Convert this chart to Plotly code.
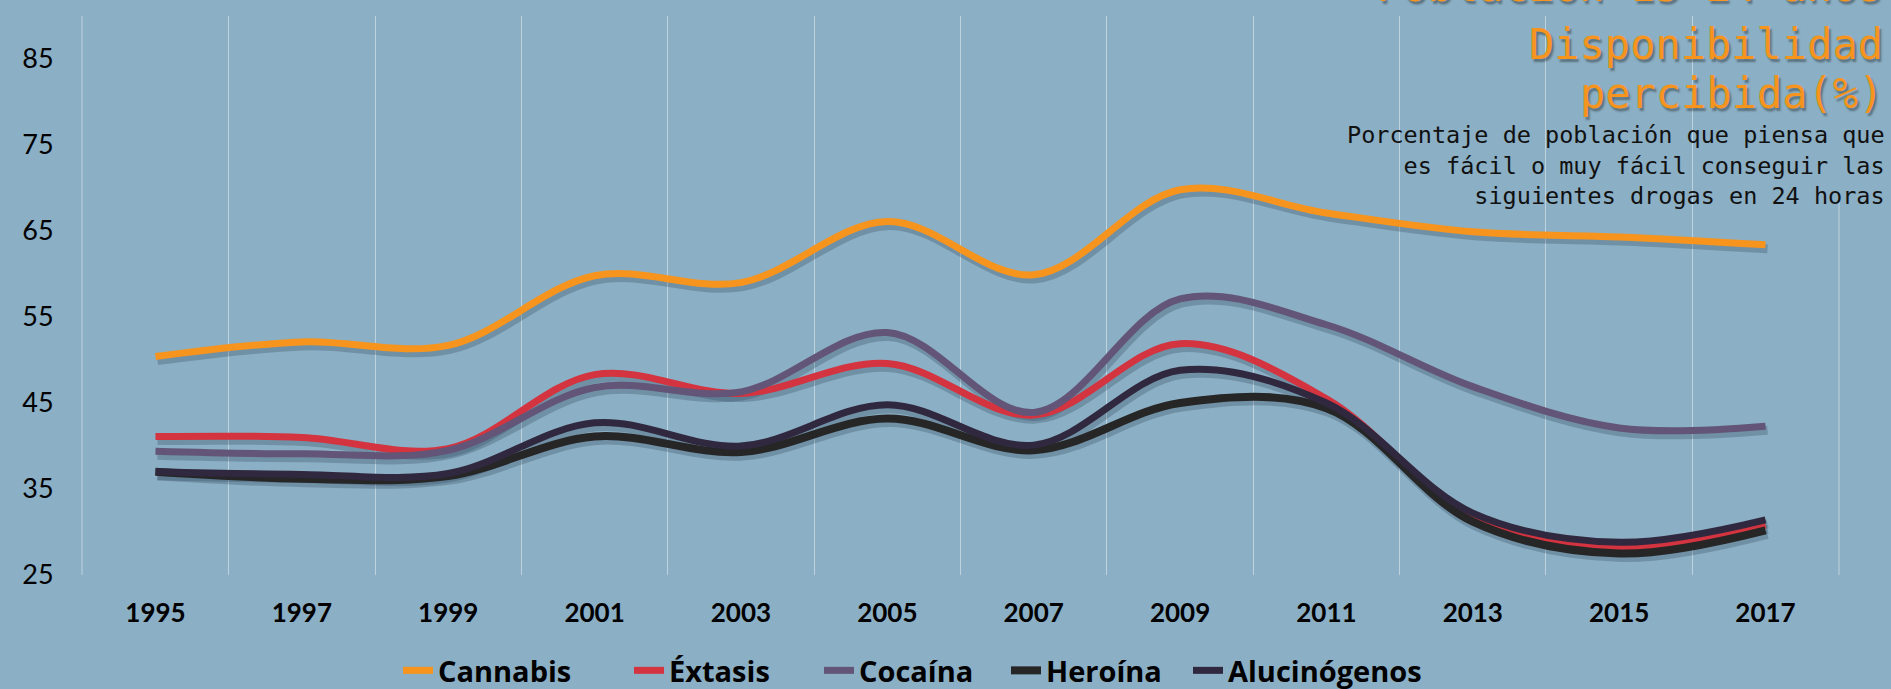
import plotly.graph_objects as go

# ---------------- data ----------------
years = ["1995", "1997", "1999", "2001", "2003", "2005",
         "2007", "2009", "2011", "2013", "2015", "2017"]
cannabis = [50.4, 52.1, 51.7, 59.8, 59.0, 66.1, 59.9, 69.8, 67.1, 64.9, 64.3, 63.4]
extasis = [41.1, 41.0, 39.7, 48.3, 46.1, 49.6, 43.6, 51.9, 45.5, 31.8, 28.2, 30.8]
cocaina = [39.4, 39.1, 39.5, 46.8, 46.3, 53.2, 43.9, 57.1, 54.1, 46.9, 42.1, 42.3]
heroina = [37.0, 36.2, 36.5, 41.1, 39.3, 43.2, 39.5, 45.0, 44.4, 31.2, 27.5, 30.2]
alucinogenos = [37.0, 36.7, 36.8, 42.7, 40.0, 44.8, 40.1, 48.8, 45.0, 32.2, 28.8, 31.4]
y_ticks = [25, 35, 45, 55, 65, 75, 85]

series_names = ["Cannabis", "Éxtasis", "Cocaína", "Heroína", "Alucinógenos"]
series_values = [cannabis, extasis, cocaina, heroina, alucinogenos]
series_colors = ["#F7941D", "#D3343F", "#635577", "#262626", "#30283F"]
series_widths = [7, 7, 7, 8, 7]
legend_widths = [186, 145, 142, 137, None]

title_lines = ["Población 15-24 años", "Disponibilidad", "percibida(%)"]
subtitle = ("Porcentaje de población que piensa que<br>"
            "es fácil o muy fácil conseguir las<br>"
            "siguientes drogas en 24 horas")

BG = "#8BAFC4"
GRID = "rgba(255,255,255,0.45)"
W, H = 1891, 689
ML, MR, MB = 82, 52, 114
TOPGAP = 16                      # space above plot area (inside paper domain)
paper_h = H - MB                 # margin t = 0
plot_h = paper_h - TOPGAP
plot_w = W - ML - MR
Y0, Y1 = 25, 90
EPS = 0.002
dy = 4 * (Y1 - Y0) / plot_h          # shadow offset (4 px down)
dx = 2 * len(years) / plot_w          # shadow offset (2 px right)
ydom = [0, plot_h / paper_h]

fig = go.Figure()

# soft shadows (base axes, hidden, slightly shifted ranges)
for vals in series_values:
    fig.add_trace(go.Scatter(
        x=years, y=vals, mode="lines",
        line=dict(color="rgba(40,62,85,0.27)", width=9, shape="spline", smoothing=1.0),
        xaxis="x", yaxis="y", showlegend=False, hoverinfo="skip"))

# main lines (overlay axes, visible)
for name, vals, col, w, lw in zip(series_names, series_values, series_colors,
                                   series_widths, legend_widths):
    tr = go.Scatter(
        x=years, y=vals, mode="lines", name=name,
        line=dict(color=col, width=w, shape="spline", smoothing=1.0),
        xaxis="x2", yaxis="y2")
    if lw:
        tr.legendwidth = lw
    fig.add_trace(tr)


def ypaper(px):
    return (paper_h - px) / paper_h


def xpaper(px):
    return (px - ML) / plot_w


# outer vertical grid lines at the plot edges
for xe in (0, 1):
    fig.add_shape(type="line", xref="paper", yref="paper",
                  x0=xe, x1=xe, y0=0, y1=ydom[1],
                  line=dict(color=GRID, width=1), layer="between")

# title box covering gridlines
fig.add_shape(type="rect", xref="paper", yref="paper",
              x0=xpaper(1318), x1=xpaper(1891), y0=ypaper(199), y1=ypaper(0),
              fillcolor=BG, line=dict(width=0), layer="between")

title_y = [-14, 45, 94]
for txt, yy in zip(title_lines, title_y):
    fig.add_annotation(
        text=txt, xref="paper", yref="paper", x=xpaper(1885), y=ypaper(yy),
        xanchor="right", yanchor="middle", showarrow=False,
        font=dict(family="DejaVu Sans Mono", size=42, color="#F7941D",
                  shadow="2px 3px 2px rgba(0,0,0,0.35)"))

fig.add_annotation(
    text=subtitle, xref="paper", yref="paper", x=xpaper(1887), y=ypaper(165),
    xanchor="right", yanchor="middle", align="right", showarrow=False,
    font=dict(family="DejaVu Sans Mono", size=23.5, color="#111111"))

fig.update_layout(
    width=W, height=H,
    margin=dict(l=ML, r=MR, t=0, b=MB, autoexpand=False),
    paper_bgcolor=BG, plot_bgcolor=BG,
    xaxis=dict(type="category", range=[-0.5 - EPS - dx, len(years) - 0.5 + EPS - dx],
               visible=False),
    yaxis=dict(range=[Y0 + dy, Y1 + dy], visible=False, domain=ydom),
    xaxis2=dict(type="category", overlaying="x", anchor="y2", side="bottom",
                range=[-0.5 - EPS, len(years) - 0.5 + EPS], tickson="boundaries",
                showgrid=True, gridcolor=GRID, gridwidth=1,
                zeroline=False, showline=False,
                ticks="outside", ticklen=20, tickcolor="rgba(0,0,0,0)",
                ticklabelstandoff=20,
                tickfont=dict(family="Lato", size=26, color="#000000", weight="bold")),
    yaxis2=dict(overlaying="y", anchor="x2", side="left", domain=ydom,
                range=[Y0, Y1], tickvals=y_ticks, ticktext=[str(t) for t in y_ticks],
                showgrid=False, zeroline=False, showline=False,
                ticks="outside", ticklen=22, tickcolor="rgba(0,0,0,0)",
                tickfont=dict(family="Lato", size=27, color="#000000")),
    legend=dict(orientation="h", x=xpaper(398), xanchor="left",
                y=ypaper(696), yanchor="bottom",
                bgcolor="rgba(0,0,0,0)", borderwidth=0,
                font=dict(family="Open Sans", size=29, color="#000000", weight="bold")),
    showlegend=True,
)

fig.write_html("out.html", config={"displayModeBar": False},
               post_script="document.body.style.margin='0px';")
